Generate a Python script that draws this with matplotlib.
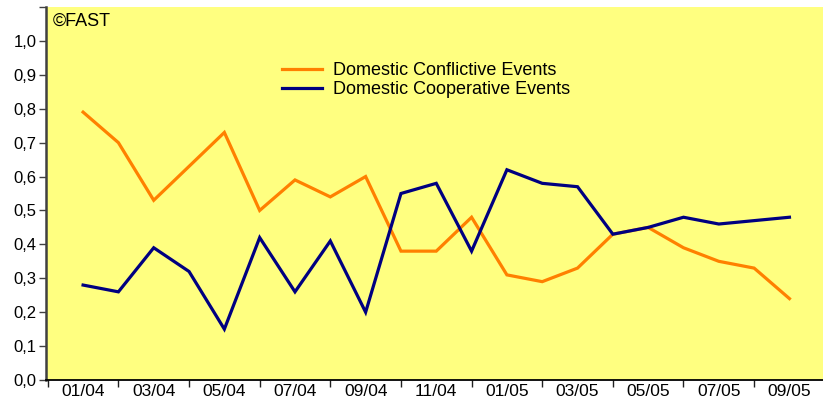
import numpy as np
import matplotlib
matplotlib.use("Agg")
import matplotlib.pyplot as plt
from matplotlib import font_manager as fm
from matplotlib.ticker import FixedLocator, FuncFormatter

months = ["01/04", "02/04", "03/04", "04/04", "05/04", "06/04", "07/04",
          "08/04", "09/04", "10/04", "11/04", "12/04", "01/05", "02/05",
          "03/05", "04/05", "05/05", "06/05", "07/05", "08/05", "09/05"]
conflictive = [0.79, 0.70, 0.53, 0.63, 0.73, 0.50, 0.59, 0.54, 0.60, 0.38,
               0.38, 0.48, 0.31, 0.29, 0.33, 0.43, 0.45, 0.39, 0.35, 0.33, 0.24]
cooperative = [0.28, 0.26, 0.39, 0.32, 0.15, 0.42, 0.26, 0.41, 0.20, 0.55,
               0.58, 0.38, 0.62, 0.58, 0.57, 0.43, 0.45, 0.48, 0.46, 0.47, 0.48]

names = {f.name for f in fm.fontManager.ttflist}
FONT = "Liberation Sans" if "Liberation Sans" in names else "DejaVu Sans"
plt.rcParams["font.family"] = FONT

fig = plt.figure(figsize=(8.23, 4.05), dpi=100)
ax = fig.add_axes([46 / 823, 1 - 380 / 405, 777 / 823, 373 / 405])
ax.set_facecolor("#FFFF80")

x = np.arange(len(months))
ax.plot(x, conflictive, color="#FF8000", lw=2.3, label="Domestic Conflictive Events",
        solid_joinstyle="miter")
ax.plot(x, cooperative, color="#000080", lw=2.3, label="Domestic Cooperative Events",
        solid_joinstyle="miter")

ax.set_xlim(-1.05, 20.95)
ax.set_ylim(0, 1.1)

# y axis: ticks every 0.1, decimal comma, no label on the top tick
ax.set_yticks(np.arange(0, 1.11, 0.1))
ax.yaxis.set_major_formatter(FuncFormatter(
    lambda v, p: "" if v > 1.05 else f"{v:.1f}".replace(".", ",")))
ax.tick_params(axis="y", direction="out", length=5, width=1, color="#404040",
               labelsize=12, pad=2)

# x axis: tick marks between labelled months, labels every other month
ax.xaxis.set_major_locator(FixedLocator(x[::2]))
ax.set_xticklabels(months[::2], fontsize=12.5)
ax.xaxis.set_minor_locator(FixedLocator(np.arange(-1, 22, 2)))
ax.tick_params(axis="x", which="major", length=0, pad=3)
ax.tick_params(axis="x", which="minor", direction="out", length=5, width=1,
               color="#202020")

for s in ("top", "right"):
    ax.spines[s].set_visible(False)
ax.spines["left"].set_color("#404040")
ax.spines["left"].set_linewidth(1.8)
ax.spines["bottom"].set_color("black")
ax.spines["bottom"].set_linewidth(1.3)

ax.text(0.009, 0.985, "©FAST", transform=ax.transAxes, ha="left", va="top",
        fontsize=13)

ax.legend(loc="upper left", bbox_to_anchor=(0.295, 0.872), frameon=False,
          fontsize=13, handlelength=2.2, handletextpad=0.6, labelspacing=0.12,
          borderaxespad=0)

fig.savefig("out.png", dpi=100, facecolor="white")
